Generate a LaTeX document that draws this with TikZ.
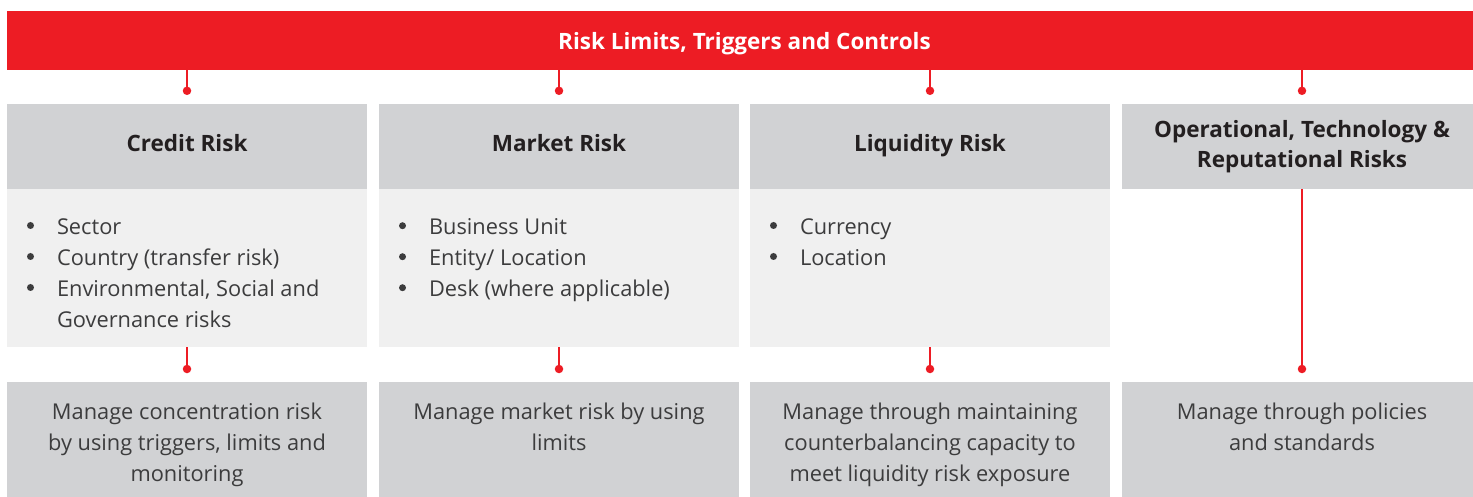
\documentclass[tikz,border=0pt]{standalone}
\usepackage{fontspec}
\setmainfont{Open Sans}
\usetikzlibrary{calc}
\definecolor{rbred}{HTML}{ED1C24}
\definecolor{hdgrey}{HTML}{D1D2D4}
\definecolor{ltgrey}{HTML}{F0F0F0}
\definecolor{txtdark}{HTML}{231F20}
\definecolor{txtbody}{HTML}{3C3C3D}
\tikzset{
  x=1pt,y=1pt,
  barbox/.style={fill=rbred, draw=none, minimum width=1475, minimum height=59, inner sep=0,
    text=white, text height=19, text depth=0, font=\fontsize{22.5}{28}\selectfont\bfseries},
  headbox/.style={fill=hdgrey, draw=none, minimum width=360, minimum height=85, inner sep=0,
    text=txtdark, align=center, font=\fontsize{22.5}{30}\selectfont\bfseries},
  headone/.style={headbox, text height=16, text depth=5},
  listbox/.style={fill=ltgrey, draw=none, minimum width=360, minimum height=158, inner sep=0},
  listtext/.style={inner sep=0, text=txtbody, font=\fontsize{21.8}{31}\selectfont, align=left},
  botbox/.style={fill=hdgrey, draw=none, minimum width=360, minimum height=126, inner sep=0},
  bottext/.style={inner sep=0, text=txtbody, align=center, font=\fontsize{21.8}{31}\selectfont},
  conn/.style={draw=rbred, line width=1.5},
  dotmark/.style={fill=rbred, draw=none, circle, minimum size=8.5, inner sep=0},
}
\newcommand{\bul}{\llap{\makebox[26.5pt][l]{\hspace{-3.5pt}\raisebox{5.5pt}{\tikz[x=1pt,y=1pt]\fill[txtbody] (0,0) circle (3.5);}}}}
\begin{document}
\begin{tikzpicture}
\clip (0,0) rectangle (1473,-497);
\useasboundingbox (0,0) rectangle (1473,-497);
% top bar
\node[barbox] (bar) at (744.5,-40.5) {Risk Limits, Triggers and Controls};
% headers
\node[headone] (h1) at (187,-146.5) {Credit Risk};
\node[headone] (h2) at (559,-146.5) {Market Risk};
\node[headone] (h3) at (930,-146.5) {Liquidity Risk};
\node[headbox] (h4) at (1302,-146.5) {Operational, Technology \&\\Reputational Risks};
% list boxes
\node[listbox, anchor=north] (l1) at (187,-189) {};
\node[listbox, anchor=north] (l2) at (559,-189) {};
\node[listbox, anchor=north] (l3) at (930,-189) {};
\node[listtext, anchor=north west] (t1) at ($(l1.north west)+(50,-29.5)$)
  {\bul Sector\\\bul Country (transfer risk)\\\bul Environmental, Social and\\Governance risks};
\node[listtext, anchor=north west] (t2) at ($(l2.north west)+(50,-29.5)$)
  {\bul Business Unit\\\bul Entity/ Location\\\bul Desk (where applicable)};
\node[listtext, anchor=north west] (t3) at ($(l3.north west)+(50,-29.5)$)
  {\bul Currency\\\bul Location};
% bottom boxes
\node[botbox, anchor=north] (b1) at (187,-382) {};
\node[botbox, anchor=north] (b2) at (559,-382) {};
\node[botbox, anchor=north] (b3) at (930,-382) {};
\node[botbox, anchor=north] (b4) at (1302,-382) {};
\node[bottext, anchor=north] (m1) at ($(b1.north)+(0,-20.5)$) {Manage concentration risk\\by using triggers, limits and\\monitoring};
\node[bottext, anchor=north] (m2) at ($(b2.north)+(0,-20.5)$) {Manage market risk by using\\limits};
\node[bottext, anchor=north] (m3) at ($(b3.north)+(0,-20.5)$) {Manage through maintaining\\counterbalancing capacity to\\meet liquidity risk exposure};
\node[bottext, anchor=north] (m4) at ($(b4.north)+(0,-20.5)$) {Manage through policies\\and standards};
% connectors top
\foreach \i in {1,2,3,4}{
  \coordinate (u\i) at ($(h\i.north)+(0,13)$);
  \draw[conn] (u\i |- bar.south) -- (u\i);
  \node[dotmark] at (u\i) {};
}
% connectors bottom
\foreach \i in {1,2,3,4}{
  \coordinate (v\i) at ($(b\i.north)+(0,13)$);
}
\foreach \i in {1,2,3}{
  \draw[conn] (v\i |- l\i.south) -- (v\i);
  \node[dotmark] at (v\i) {};
}
\draw[conn] (h4.south) -- (v4);
\node[dotmark] at (v4) {};
\end{tikzpicture}
\end{document}
